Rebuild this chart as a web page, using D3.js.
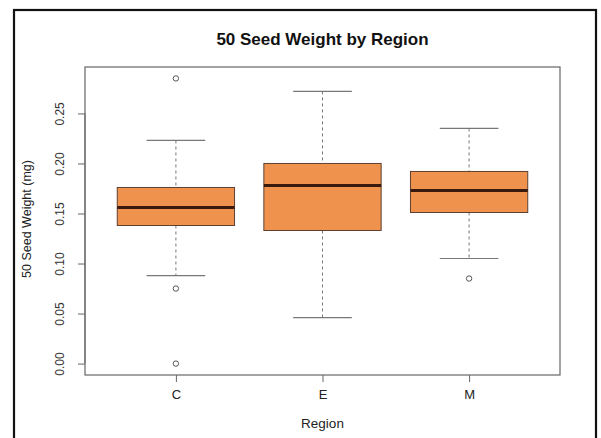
<!DOCTYPE html>
<html><head><meta charset="utf-8">
<script src="https://cdn.jsdelivr.net/npm/d3@7"></script>
<style>html,body{margin:0;padding:0;background:#fff;}svg{display:block;}</style>
</head><body>
<svg id="chart" width="601" height="438"></svg>
<script>
const regions = ["C", "E", "M"];
const lowerWhisker = [0.088, 0.046, 0.105];
const q1 = [0.138, 0.133, 0.151];
const median = [0.156, 0.178, 0.173];
const q3 = [0.176, 0.200, 0.192];
const upperWhisker = [0.223, 0.272, 0.235];
const outliers = [[0.285, 0.075, 0.000], [], [0.085]];
const yTicks = [0.00, 0.05, 0.10, 0.15, 0.20, 0.25];

const svg = d3.select("#chart");
const L = 85, R = 560, T = 67, B = 375;
const font = "Liberation Sans, Arial, Helvetica, sans-serif";

// outer frame
svg.append("rect").attr("x", 14).attr("y", 10).attr("width", 582).attr("height", 440)
  .attr("fill", "none").attr("stroke", "#111").attr("stroke-width", 2.2);

const y = d3.scaleLinear().domain([-0.0114, 0.2964]).range([B, T]);
const x = d3.scaleLinear().domain([0.38, 3.62]).range([L, R]);
const bw = 0.8 * (x(1) - x(0));

const data = regions.map((r, i) => ({r, i, lw: lowerWhisker[i], q1: q1[i], med: median[i], q3: q3[i], uw: upperWhisker[i], out: outliers[i]}));

const axisCol = "#666";
const g = svg.append("g");
data.forEach(d => {
  const cx = x(d.i + 1);
  g.append("line").attr("x1", cx).attr("x2", cx).attr("y1", y(d.uw)).attr("y2", y(d.q3))
    .attr("stroke", "#777").attr("stroke-dasharray", "3,3").attr("stroke-width", 1);
  g.append("line").attr("x1", cx).attr("x2", cx).attr("y1", y(d.q1)).attr("y2", y(d.lw))
    .attr("stroke", "#777").attr("stroke-dasharray", "3,3").attr("stroke-width", 1);
  [d.uw, d.lw].forEach(v => g.append("line").attr("x1", cx - bw / 4).attr("x2", cx + bw / 4)
    .attr("y1", y(v)).attr("y2", y(v)).attr("stroke", "#777").attr("stroke-width", 1.2));
  g.append("rect").attr("x", cx - bw / 2).attr("width", bw).attr("y", y(d.q3)).attr("height", y(d.q1) - y(d.q3))
    .attr("fill", "#EF924E").attr("stroke", "#5e4030").attr("stroke-width", 1);
  g.append("line").attr("x1", cx - bw / 2).attr("x2", cx + bw / 2).attr("y1", y(d.med)).attr("y2", y(d.med))
    .attr("stroke", "#3a1a0c").attr("stroke-width", 2.8);
  d.out.forEach(v => g.append("circle").attr("cx", cx).attr("cy", y(v)).attr("r", 2.7)
    .attr("fill", "none").attr("stroke", "#555").attr("stroke-width", 1));
});

svg.append("rect").attr("x", L).attr("y", T).attr("width", R - L).attr("height", B - T)
  .attr("fill", "none").attr("stroke", axisCol).attr("stroke-width", 1.2);

const ya = svg.append("g").attr("transform", `translate(${L},0)`)
  .call(d3.axisLeft(y).tickValues(yTicks).tickFormat(d3.format(".2f")).tickSize(7).tickPadding(0));
ya.select(".domain").attr("stroke", axisCol).attr("d", `M0,${y(0)}V${y(0.25)}`);
ya.selectAll(".tick line").attr("stroke", axisCol);
ya.selectAll(".tick text").attr("transform", "rotate(-90)").attr("x", 0).attr("y", -25).attr("dy", "0.35em")
  .attr("text-anchor", "middle").attr("font-family", font).attr("font-size", 12).attr("fill", "#333");

const xa = svg.append("g").attr("transform", `translate(0,${B})`)
  .call(d3.axisBottom(x).tickValues([1, 2, 3]).tickFormat((d) => regions[d - 1]).tickSize(7).tickPadding(8));
xa.select(".domain").remove();
xa.selectAll(".tick line").attr("stroke", axisCol);
xa.selectAll(".tick text").attr("font-family", font).attr("font-size", 13).attr("fill", "#222");

svg.append("text").attr("x", (L + R) / 2).attr("y", 45).attr("text-anchor", "middle")
  .attr("font-family", font).attr("font-weight", "bold").attr("font-size", 17).attr("fill", "#111")
  .text("50 Seed Weight by Region");
svg.append("text").attr("x", (L + R) / 2).attr("y", 428).attr("text-anchor", "middle")
  .attr("font-family", font).attr("font-size", 13.5).attr("fill", "#222").text("Region");
svg.append("text").attr("transform", `translate(31,${(T + B) / 2 - 2}) rotate(-90)`).attr("text-anchor", "middle")
  .attr("font-family", font).attr("font-size", 12.5).attr("fill", "#222").text("50 Seed Weight (mg)");
</script>
</body></html>
